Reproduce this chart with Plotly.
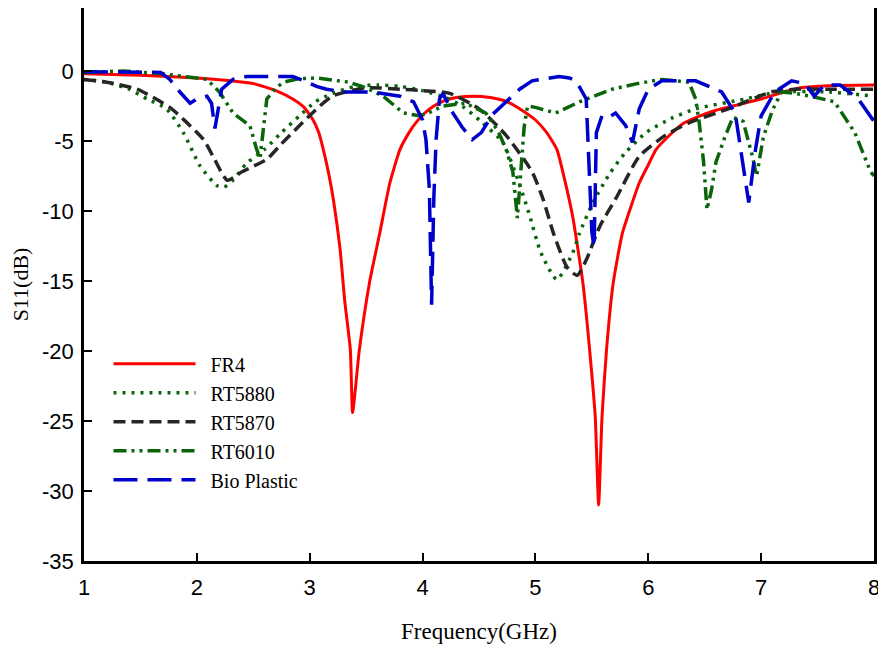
import plotly.graph_objects as go

# ---------------- data ----------------
fr4_x = [1.0, 1.5, 2.0, 2.3, 2.5, 2.7, 2.85, 2.95, 3.03, 3.08, 3.12, 3.17, 3.21, 3.27, 3.31, 3.36,
         3.38, 3.44, 3.53, 3.62, 3.71, 3.8, 3.88, 3.95, 4.02, 4.1, 4.2, 4.3, 4.45, 4.6, 4.75,
         4.88, 5.0, 5.1, 5.19, 5.26, 5.33, 5.42, 5.48, 5.53, 5.56, 5.59, 5.63, 5.69, 5.77,
         5.85, 5.92, 6.0, 6.07, 6.2, 6.3, 6.43, 6.6, 6.8, 7.0, 7.2, 7.35, 7.6, 8.0]
fr4_y = [-0.2, -0.3, -0.5, -0.7, -0.9, -1.4, -2.0, -2.6, -3.5, -4.4, -5.6, -7.4, -9.2, -12.8,
         -16.4, -19.9, -24.4, -19.9, -15.1, -11.6, -8.0, -5.6, -4.4, -3.6, -3.0, -2.5, -2.1,
         -1.9, -1.8, -1.9, -2.2, -2.8, -3.5, -4.4, -5.6, -7.8, -10.4, -15.1, -19.9, -24.7,
         -31.0, -24.7, -19.9, -15.1, -11.6, -9.6, -8.0, -6.7, -5.6, -4.5, -3.8, -3.3, -2.8,
         -2.4, -2.0, -1.5, -1.2, -1.05, -1.0]

rt5880_x = [1.0, 1.2, 1.4, 1.56, 1.73, 1.88, 2.03, 2.18, 2.24, 2.32, 2.44, 2.6, 2.75, 2.91, 3.05,
            3.2, 3.4, 3.6, 3.8, 4.0, 4.2, 4.35, 4.53, 4.71, 4.85, 4.94, 5.05, 5.19, 5.33, 5.39,
            5.51, 5.66, 5.79, 5.98, 6.2, 6.42, 6.86, 7.15, 7.6, 8.0]
rt5880_y = [-0.6, -0.8, -1.3, -2.0, -2.7, -4.4, -6.8, -8.2, -8.3, -7.8, -6.6, -5.6, -4.4, -3.2,
            -2.2, -1.6, -1.1, -1.0, -1.1, -1.4, -1.9, -2.5, -3.7, -5.1, -7.9, -10.1, -13.0,
            -14.9, -13.0, -11.6, -9.4, -7.3, -5.9, -4.4, -3.4, -2.7, -2.0, -1.5, -1.5, -1.8]

rt5870_x = [1.0, 1.2, 1.47, 1.76, 1.9, 2.06, 2.15, 2.27, 2.4, 2.62, 2.75, 2.91, 3.05, 3.2, 3.5,
            3.8, 4.0, 4.24, 4.5, 4.74, 4.97, 5.07, 5.16, 5.28, 5.37, 5.45, 5.57, 5.72, 5.92,
            6.15, 6.36, 6.71, 7.09, 7.3, 7.59, 8.0]
rt5870_y = [-0.6, -0.8, -1.3, -2.6, -3.6, -4.9, -6.2, -7.8, -7.2, -6.3, -5.2, -3.9, -2.8, -1.8,
            -1.2, -1.3, -1.4, -1.6, -2.7, -4.6, -7.2, -9.2, -11.6, -14.0, -14.6, -13.5, -11.1,
            -9.0, -6.1, -4.6, -3.7, -2.7, -1.5, -1.3, -1.3, -1.3]

rt6010_x = [1.0, 1.35, 1.7, 2.09, 2.2, 2.32, 2.47, 2.53, 2.56, 2.59, 2.62, 2.7, 2.77, 2.9, 3.06,
            3.35, 3.5, 3.65, 3.83, 3.97, 4.05, 4.18, 4.38, 4.56, 4.67, 4.74, 4.8, 4.84, 4.87,
            4.9, 4.93, 5.0, 5.18, 5.39, 5.68, 5.9, 6.12, 6.36, 6.42, 6.45, 6.49, 6.52, 6.56,
            6.6, 6.68, 6.75, 6.84, 6.92, 6.96, 7.02, 7.1, 7.18, 7.3, 7.44, 7.65, 7.83, 7.97, 8.0]
rt6010_y = [-0.1, 0.0, -0.2, -0.6, -1.5, -3.0, -3.9, -5.6, -6.2, -4.0, -2.0, -1.2, -0.8, -0.55,
            -0.5, -0.8, -1.2, -1.8, -3.0, -3.2, -3.0, -2.5, -2.3, -3.0, -4.3, -5.6, -7.2, -10.5,
            -7.0, -4.0, -2.5, -2.6, -3.0, -2.2, -1.3, -0.9, -0.6, -0.8, -2.0, -3.6, -6.5, -9.9,
            -8.5, -6.5, -4.7, -3.3, -3.6, -6.0, -7.5, -4.7, -2.8, -1.5, -1.6, -1.8, -2.2, -4.4,
            -7.2, -7.5]

bio_x = [1.0, 1.4, 1.68, 1.76, 1.85, 1.94, 2.0, 2.09, 2.13, 2.16, 2.19, 2.22, 2.32, 2.44, 2.85,
         2.95, 3.06, 3.15, 3.3, 3.56, 3.8, 3.92, 4.0, 4.03, 4.06, 4.08, 4.1, 4.12, 4.15, 4.18,
         4.26, 4.35, 4.44, 4.52, 4.62, 4.75, 4.86, 4.97, 5.21, 5.3, 5.36, 5.45, 5.47, 5.5,
         5.52, 5.54, 5.59, 5.65, 5.71, 5.8, 5.86, 5.92, 6.0, 6.12, 6.42, 6.65, 6.77, 6.84,
         6.89, 6.95, 7.0, 7.12, 7.27, 7.39, 7.47, 7.56, 7.7, 7.86, 8.0]
bio_y = [-0.05, -0.05, -0.1, -0.6, -1.5, -2.3, -2.0, -1.8, -2.3, -4.1, -2.5, -1.3, -0.6, -0.4,
         -0.4, -0.7, -1.1, -1.3, -1.5, -1.5, -1.8, -2.2, -3.5, -4.9, -8.4, -16.7, -9.0, -4.9,
         -2.0, -1.6, -2.9, -4.0, -4.9, -4.4, -3.1, -2.1, -1.3, -0.7, -0.4, -0.5, -0.7, -2.0,
         -5.6, -11.5, -12.6, -4.4, -3.2, -3.3, -3.0, -3.9, -5.1, -2.7, -1.3, -0.7, -0.7, -1.5,
         -3.0, -6.8, -9.4, -5.6, -3.2, -1.5, -0.7, -0.9, -1.8, -1.0, -1.0, -2.0, -3.6]

x_ticks = [1, 2, 3, 4, 5, 6, 7, 8]
y_ticks = [0, -5, -10, -15, -20, -25, -30, -35]
legend_names = ["FR4", "RT5880", "RT5870", "RT6010", "Bio Plastic"]

# ---------------- figure ----------------
SERIF = "Liberation Serif, Times New Roman, serif"
SANS = "Liberation Sans, Arial, sans-serif"
pad = "\u00a0\u00a0"

fig = go.Figure()
fig.add_trace(go.Scatter(x=fr4_x, y=fr4_y, mode="lines", name=pad + legend_names[0],
                         line=dict(color="#ff0000", width=3, shape="spline", smoothing=0.5)))
fig.add_trace(go.Scatter(x=rt5880_x, y=rt5880_y, mode="lines", name=pad + legend_names[1],
                         line=dict(color="#0a640a", width=3.5, dash="3px,6px", shape="spline", smoothing=0.6)))
fig.add_trace(go.Scatter(x=rt5870_x, y=rt5870_y, mode="lines", name=pad + legend_names[2],
                         line=dict(color="#262626", width=3.5, dash="12px,6px", shape="spline", smoothing=0.6)))
fig.add_trace(go.Scatter(x=rt6010_x, y=rt6010_y, mode="lines", name=pad + legend_names[3],
                         line=dict(color="#0a640a", width=3.5, dash="13px,5px,3px,5px,3px,5px")))
fig.add_trace(go.Scatter(x=bio_x, y=bio_y, mode="lines", name=pad + legend_names[4],
                         line=dict(color="#0000cc", width=3.5, dash="24px,10px")))

axis_common = dict(showgrid=False, zeroline=False, showline=True, linecolor="black",
                   linewidth=2.5, mirror=True, ticks="inside", ticklen=8, tickwidth=2,
                   tickcolor="black",
                   tickfont=dict(family=SANS, size=22, color="black"))

fig.update_xaxes(range=[1, 8], tickvals=x_ticks, ticktext=[str(v) for v in x_ticks],
                 title=dict(text="Frequency(GHz)", standoff=24,
                            font=dict(family=SERIF, size=23, color="black")),
                 ticklabelstandoff=5, **axis_common)
fig.update_yaxes(range=[-35, 4.5], tickvals=y_ticks, ticktext=[str(v) for v in y_ticks],
                 title=dict(text="S11(dB)", standoff=8,
                            font=dict(family=SERIF, size=22, color="black")),
                 ticklabelstandoff=3, **axis_common)

# the page body has an 8px margin, so the figure is sized to the remaining window area
fig.update_layout(
    width=878, height=643,
    margin=dict(l=76, r=12, t=0, b=90, autoexpand=False),
    paper_bgcolor="white", plot_bgcolor="white",
    showlegend=True,
    legend=dict(x=0.031, y=0.392, xanchor="left", yanchor="top",
                bgcolor="rgba(0,0,0,0)", itemwidth=82,
                font=dict(family=SERIF, size=20, color="black")),
)

fig.write_html("out.html")
